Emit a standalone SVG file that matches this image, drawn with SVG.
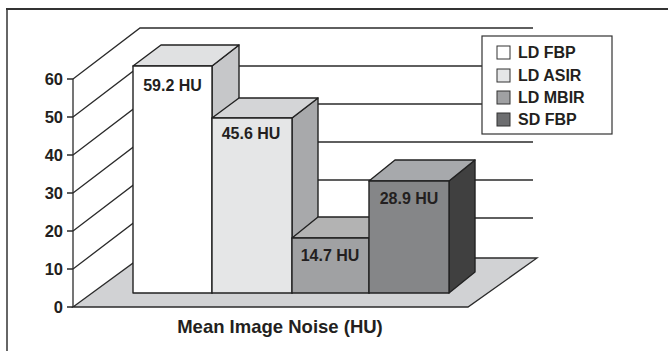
<svg xmlns="http://www.w3.org/2000/svg" width="668" height="351" viewBox="0 0 668 351">
  <style>
    text { font-family: "Liberation Sans", Arial, sans-serif; font-weight: bold; fill: #231f20; }
    .grid { stroke: #2b2b2b; stroke-width: 1.3; fill: none; }
    .edge { stroke: #222; stroke-width: 1.4; stroke-linejoin: round; }
    .axis { font-size: 16.5px; text-anchor: end; }
    .val { font-size: 16px; text-anchor: middle; }
    .leg { font-size: 16px; }
  </style>
  <rect width="668" height="351" fill="#ffffff"/>
  <!-- chart frame -->
  <path d="M7,351 V9" stroke="#666" stroke-width="2" fill="none"/>
  <path d="M6,9 H668" stroke="#333" stroke-width="2" fill="none"/>

  <!-- walls, gridlines and floor -->
  <g id="grid">
    <path class="grid" d="M73,79 V307"/>
    <path class="grid" d="M73,79 L140,28 H533"/>
    <path class="grid" d="M73,117 L140,66 H533"/>
    <path class="grid" d="M73,155 L140,104 H533"/>
    <path class="grid" d="M73,193 L140,142 H533"/>
    <path class="grid" d="M73,231 L140,180 H533"/>
    <path class="grid" d="M73,269 L140,218 H533"/>
    <!-- ticks -->
    <path class="grid" d="M67,79 H73 M67,117 H73 M67,155 H73 M67,193 H73 M67,231 H73 M67,269 H73 M67,307 H73"/>
  </g>
  <g id="floor">
    <path d="M73,307 L140,258 H537 L468,307 Z" fill="#d1d2d4"/>
    <path class="grid" d="M73,307 L140,258 H537 L468,307 Z"/>
  </g>

  <!-- axis labels -->
  <g id="axis-labels">
    <text class="axis" x="63" y="85">60</text>
    <text class="axis" x="63" y="123">50</text>
    <text class="axis" x="63" y="161">40</text>
    <text class="axis" x="63" y="199">30</text>
    <text class="axis" x="63" y="237">20</text>
    <text class="axis" x="63" y="275">10</text>
    <text class="axis" x="63" y="313">0</text>
  </g>

  <!-- bars, left to right so each front face covers the previous side face -->
  <g id="bar-ld-fbp">
    <path class="edge" d="M212,66 L239,45 V272 L212,293 Z" fill="#c6c7c9"/>
    <path class="edge" d="M133,66 L161,45 H239 L212,66 Z" fill="#e0e1e2"/>
    <rect class="edge" x="133" y="66" width="79" height="227" fill="#ffffff"/>
    <text class="val" x="172.5" y="91">59.2 HU</text>
  </g>
  <g id="bar-ld-asir">
    <path class="edge" d="M292,118 L318,98 V272 L292,293 Z" fill="#a8a9ab"/>
    <path class="edge" d="M212,118 L239,98 H318 L292,118 Z" fill="#d4d5d7"/>
    <rect class="edge" x="212" y="118" width="80" height="175" fill="#e5e6e7"/>
    <text class="val" x="251" y="139">45.6 HU</text>
  </g>
  <g id="bar-ld-mbir">
    <path class="edge" d="M369,238 L395,217 V272 L369,293 Z" fill="#a0a0a0"/>
    <path class="edge" d="M292,238 L318,217 H395 L369,238 Z" fill="#b3b3b3"/>
    <rect class="edge" x="292" y="238" width="77" height="55" fill="#a0a1a3"/>
    <text class="val" x="330" y="261">14.7 HU</text>
  </g>
  <g id="bar-sd-fbp">
    <path class="edge" d="M449,181 L475,160 V272 L449,293 Z" fill="#404040"/>
    <path class="edge" d="M369,181 L395,160 H475 L449,181 Z" fill="#a7a9ac"/>
    <rect class="edge" x="369" y="181" width="80" height="112" fill="#858688"/>
    <text class="val" x="409" y="204">28.9 HU</text>
  </g>

  <!-- legend -->
  <g id="legend">
    <rect x="482" y="36" width="130" height="98" fill="#ffffff" stroke="#333" stroke-width="1.2"/>
    <rect x="497" y="46" width="13" height="13" fill="#ffffff" stroke="#333" stroke-width="1"/>
    <rect x="497" y="69" width="13" height="13" fill="#e5e6e7" stroke="#333" stroke-width="1"/>
    <rect x="497" y="91" width="13" height="13" fill="#a0a1a3" stroke="#333" stroke-width="1"/>
    <rect x="497" y="113" width="13" height="13" fill="#6d6e70" stroke="#333" stroke-width="1"/>
    <text class="leg" x="518" y="58">LD FBP</text>
    <text class="leg" x="518" y="81">LD ASIR</text>
    <text class="leg" x="518" y="103">LD MBIR</text>
    <text class="leg" x="518" y="125">SD FBP</text>
  </g>

  <!-- axis title -->
  <text id="title" x="280" y="333" font-size="18.5" text-anchor="middle">Mean Image Noise (HU)</text>
</svg>
